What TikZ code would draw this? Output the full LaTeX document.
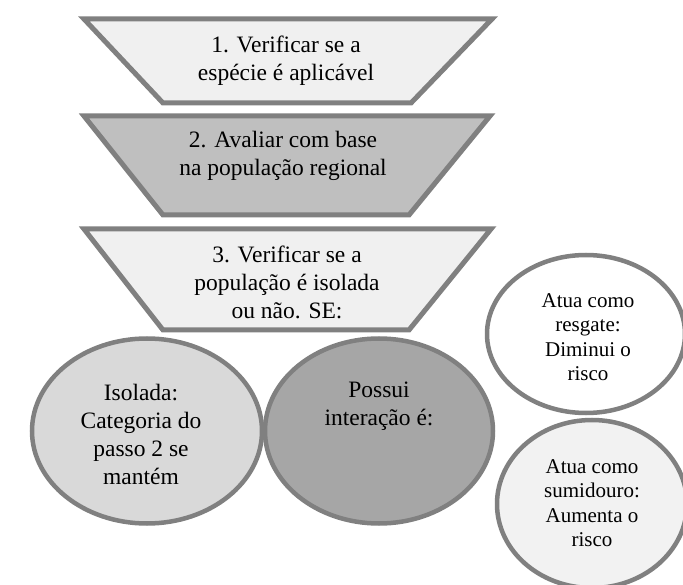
\documentclass[tikz,border=0pt]{standalone}
\usepackage{fontspec}
\setmainfont{Liberation Serif}
\usetikzlibrary{shapes.geometric}
\definecolor{contorno}{RGB}{128,128,128}
\definecolor{claro}{RGB}{240,240,240}
\definecolor{medio}{RGB}{191,191,191}
\definecolor{cinzaiso}{RGB}{217,217,217}
\definecolor{escuro}{RGB}{166,166,166}
\definecolor{quaseb}{RGB}{242,242,242}
\begin{document}
\begin{tikzpicture}[x=1pt,y=-1pt,
  passo/.style={draw=contorno,line width=5pt,line join=miter},
  bolha/.style={ellipse,draw=contorno,line width=4.5pt,inner sep=0pt},
  texto/.style={align=center,inner sep=0pt,font=\fontsize{23.5}{28}\selectfont},
  textop/.style={align=center,inner sep=0pt,font=\fontsize{21}{24.5}\selectfont}]
\useasboundingbox (0,0) rectangle (683,585);
\clip (0,0) rectangle (683,585);
\fill[white] (0,0) rectangle (683,585);
% os tres passos
\draw[passo,fill=claro] (84,19) -- (492,19) -- (411,103) -- (163,103) -- cycle;
\draw[passo,fill=medio] (84,116) -- (490,116) -- (409,215) -- (163,215) -- cycle;
\draw[passo,fill=claro] (84,229) -- (491,229) -- (409,330) -- (163,330) -- cycle;
\node[texto] (p1) at (286,61) {1. Verificar se a\\esp\'ecie \'e aplic\'avel};
\node[texto] (p2) at (283,156) {2. Avaliar com base\\na popula\c{c}\~ao regional};
\node[texto] (p3) at (287,282) {3. Verificar se a\\popula\c{c}\~ao \'e isolada\\ou n\~ao. SE:};
% casos
\node[bolha,fill=cinzaiso,minimum width=230pt,minimum height=185pt] (isolada) at (147,431) {};
\node[bolha,fill=escuro,minimum width=228pt,minimum height=185pt] (interacao) at (379,431) {};
\node[bolha,fill=white,minimum width=198pt,minimum height=158pt] (resgate) at (586,334) {};
\node[bolha,fill=quaseb,minimum width=190pt,minimum height=168pt] (sumidouro) at (592,504) {};
\node[texto] (tiso) at (141,434) {Isolada:\\Categoria do\\passo 2 se\\mant\'em};
\node[texto] (tint) at (379,406) {Possui\\intera\c{c}\~ao \'e:};
\node[textop] (tres) at (588,337) {Atua como\\resgate:\\Diminui o\\risco};
\node[textop] (tsum) at (592,503) {Atua como\\sumidouro:\\Aumenta o\\risco};
\end{tikzpicture}
\end{document}
